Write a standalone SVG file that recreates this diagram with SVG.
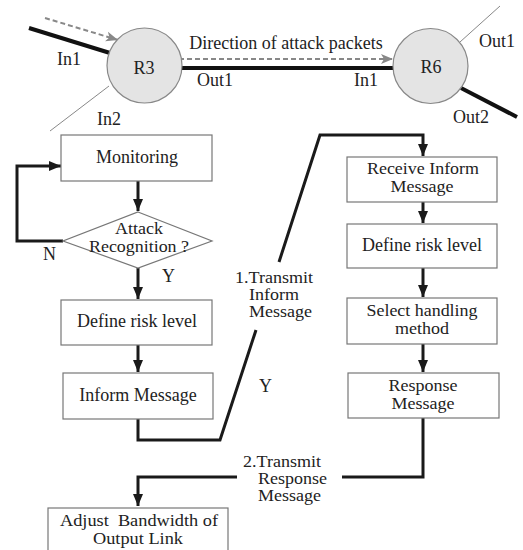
<svg xmlns="http://www.w3.org/2000/svg" width="523" height="550" viewBox="0 0 523 550">
<defs>
<marker id="ah" markerUnits="userSpaceOnUse" markerWidth="12" markerHeight="12" viewBox="0 0 12 12" refX="12" refY="6" orient="auto">
<path d="M0,1 L12,6 L0,11 Z" fill="#1a1a1a"/>
</marker>
<marker id="ahg" markerUnits="userSpaceOnUse" markerWidth="12" markerHeight="12" viewBox="0 0 12 12" refX="12" refY="6" orient="auto">
<path d="M0,1 L12,6 L0,11 L3,6 Z" fill="#888"/>
</marker>
</defs>
<style>
text{font-family:"Liberation Serif","Times New Roman",serif;font-size:18px;fill:#222}
.m{font-size:16px}
.c{text-anchor:middle}
.box{fill:#fff;stroke:#777;stroke-width:1.2}
.rt{fill:#e4e4e4;stroke:#888;stroke-width:1.2}
.flow{fill:none;stroke:#1a1a1a;stroke-width:3}
.thick{stroke:#111;stroke-width:4;fill:none}
.thin{stroke:#888;stroke-width:1;fill:none}
.dash{stroke:#888;stroke-width:2;stroke-dasharray:5,3;fill:none}
</style>
<rect width="523" height="550" fill="#fff"/>

<g id="links">
<line class="thick" x1="29" y1="28" x2="110" y2="53"/>
<line class="thin" x1="50" y1="131" x2="109" y2="86"/>
<line class="thick" x1="182" y1="68" x2="393" y2="68"/>
<line class="thin" x1="460" y1="42" x2="500" y2="6"/>
<line class="thick" x1="461" y1="88" x2="517" y2="117"/>
<line class="dash" x1="45" y1="18" x2="118" y2="40" marker-end="url(#ahg)"/>
<line class="dash" x1="179" y1="59" x2="393" y2="59" marker-end="url(#ahg)"/>
</g>

<g id="R3">
<circle class="rt" cx="144.5" cy="65.5" r="37.5"/>
<text x="144" y="74" class="c">R3</text>
</g>
<g id="R6">
<circle class="rt" cx="430.5" cy="66" r="37.5"/>
<text x="431" y="73" class="c">R6</text>
</g>

<g id="net-labels">
<text x="57" y="65">In1</text>
<text x="97" y="125">In2</text>
<text x="197" y="86">Out1</text>
<text x="354" y="86">In1</text>
<text x="479" y="47">Out1</text>
<text x="453" y="123">Out2</text>
<text x="286" y="49" class="c">Direction of attack packets</text>
</g>

<g id="connectors">
<path class="flow" d="M138,181 V211" marker-end="url(#ah)"/>
<path class="flow" d="M63,241 H17 V166 H61" marker-end="url(#ah)"/>
<path class="flow" d="M138,268 V299" marker-end="url(#ah)"/>
<path class="flow" d="M138,345 V372" marker-end="url(#ah)"/>
<path class="flow" d="M138,419 V440 H220 L256,330"/>
<path class="flow" d="M279,262 L320,135 H423 V156" marker-end="url(#ah)"/>
<path class="flow" d="M423,202 V223" marker-end="url(#ah)"/>
<path class="flow" d="M423,268 V297" marker-end="url(#ah)"/>
<path class="flow" d="M423,344 V372" marker-end="url(#ah)"/>
<path class="flow" d="M423,418 V477 H342"/>
<path class="flow" d="M237,477 H138 V506" marker-end="url(#ah)"/>
<text x="43" y="260">N</text>
<text x="162" y="282">Y</text>
<text x="259" y="392">Y</text>
<text x="235" y="283" class="m" textLength="78" lengthAdjust="spacingAndGlyphs">1.Transmit</text>
<text x="249" y="300" class="m" textLength="50" lengthAdjust="spacingAndGlyphs">Inform</text>
<text x="249" y="317" class="m" textLength="63" lengthAdjust="spacingAndGlyphs">Message</text>
<text x="243" y="467" class="m" textLength="78" lengthAdjust="spacingAndGlyphs">2.Transmit</text>
<text x="258" y="484" class="m" textLength="69" lengthAdjust="spacingAndGlyphs">Response</text>
<text x="258" y="501" class="m" textLength="63" lengthAdjust="spacingAndGlyphs">Message</text>
</g>

<g id="monitoring">
<rect class="box" x="61" y="135" width="151" height="46"/>
<text x="137" y="163" class="c">Monitoring</text>
</g>
<g id="attack-recognition">
<path class="box" d="M138,212 L212,241 L138,268 L63,241 Z"/>
<text x="139" y="234" class="c m" textLength="48" lengthAdjust="spacingAndGlyphs">Attack</text>
<text x="139" y="252" class="c m" textLength="100" lengthAdjust="spacingAndGlyphs">Recognition ?</text>
</g>
<g id="define-risk-left">
<rect class="box" x="61" y="300" width="151" height="45"/>
<text x="137" y="327" class="c">Define risk level</text>
</g>
<g id="inform-message">
<rect class="box" x="63" y="373" width="150" height="46"/>
<text x="138" y="401" class="c">Inform Message</text>
</g>
<g id="receive-inform">
<rect class="box" x="347" y="157" width="150" height="45"/>
<text x="423" y="174" class="c m" textLength="112" lengthAdjust="spacingAndGlyphs">Receive Inform</text>
<text x="422" y="192" class="c m" textLength="63" lengthAdjust="spacingAndGlyphs">Message</text>
</g>
<g id="define-risk-right">
<rect class="box" x="347" y="224" width="150" height="44"/>
<text x="422" y="251" class="c">Define risk level</text>
</g>
<g id="select-handling">
<rect class="box" x="347" y="298" width="150" height="46"/>
<text x="422" y="316" class="c m" textLength="111" lengthAdjust="spacingAndGlyphs">Select handling</text>
<text x="422" y="334" class="c m" textLength="54" lengthAdjust="spacingAndGlyphs">method</text>
</g>
<g id="response-message">
<rect class="box" x="348" y="373" width="151" height="45"/>
<text x="423" y="391" class="c m" textLength="69" lengthAdjust="spacingAndGlyphs">Response</text>
<text x="423" y="409" class="c m" textLength="63" lengthAdjust="spacingAndGlyphs">Message</text>
</g>
<g id="adjust-bandwidth">
<rect class="box" x="48" y="508" width="180" height="50"/>
<text x="139" y="526" class="c m" xml:space="preserve" textLength="158" lengthAdjust="spacingAndGlyphs">Adjust  Bandwidth of</text>
<text x="138" y="544" class="c m" textLength="90" lengthAdjust="spacingAndGlyphs">Output Link</text>
</g>
</svg>
